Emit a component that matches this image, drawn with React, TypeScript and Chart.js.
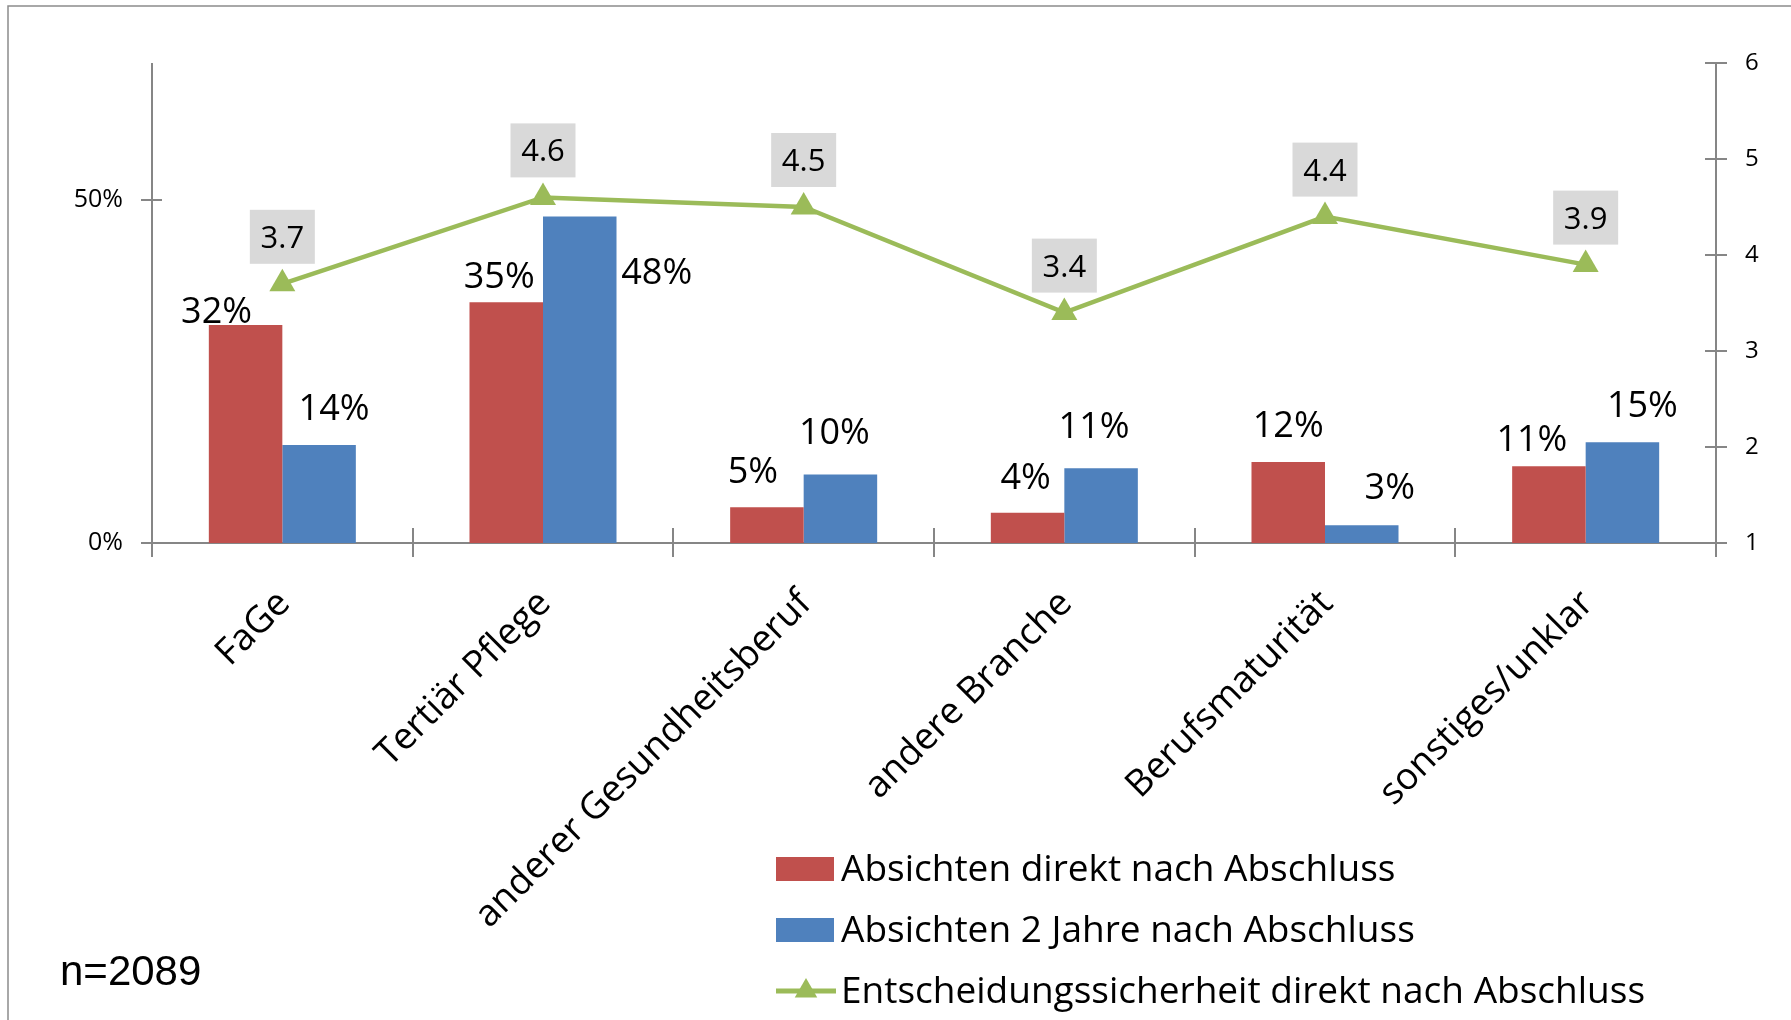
import React, { useEffect, useRef } from "react";
import { Chart, registerables } from "chart.js";

Chart.register(...registerables);

// ---------- data ----------
const categories = [
  "FaGe",
  "Tertiär Pflege",
  "anderer Gesundheitsberuf",
  "andere Branche",
  "Berufsmaturität",
  "sonstiges/unklar",
];
const directShare = [0.318, 0.351, 0.052, 0.044, 0.118, 0.112];
const twoYearShare = [0.143, 0.476, 0.1, 0.109, 0.026, 0.147];
const certainty = [3.7, 4.6, 4.5, 3.4, 4.4, 3.9];
const seriesNames = [
  "Absichten direkt nach Abschluss",
  "Absichten 2 Jahre nach Abschluss",
  "Entscheidungssicherheit direkt nach Abschluss",
];
const leftTicks = [0, 0.5];
const rightTicks = [1, 2, 3, 4, 5, 6];
const sampleNote = "n=2089";

// ---------- label placement (styling only, px offsets from bar top centre) ----------
const directLabelOffsets = [
  [-29, -15],
  [-7, -27],
  [-14, -37],
  [-2, -37],
  [0, -38],
  [-17, -28],
];
const twoYearLabelOffsets = [
  [15, -38],
  [77, 55],
  [-6, -43],
  [-7, -43],
  [28, -39],
  [20, -38],
];

const RED = "#C0504D";
const BLUE = "#4F81BD";
const GREEN = "#9BBB59";
const AXIS = "#868686";
const FONT = '"Open Sans"';

function drawTriangle(ctx: CanvasRenderingContext2D, x: number, y: number, r: number) {
  const s = Math.sin(Math.PI / 3) * r;
  ctx.beginPath();
  ctx.moveTo(x, y - r);
  ctx.lineTo(x + s, y + r / 2);
  ctx.lineTo(x - s, y + r / 2);
  ctx.closePath();
  ctx.fill();
}

const framePlugin = {
  id: "frame",
  beforeDraw(chart: any) {
    const ctx = chart.ctx;
    ctx.save();
    ctx.strokeStyle = "#8c8c8c";
    ctx.lineWidth = 1.5;
    ctx.beginPath();
    ctx.moveTo(8, chart.height);
    ctx.lineTo(8, 6);
    ctx.lineTo(chart.width, 6);
    ctx.stroke();
    ctx.restore();
  },
};

const axisPlugin = {
  id: "axisDecor",
  beforeDatasetsDraw(chart: any) {
    const { ctx, chartArea: a, scales } = chart;
    const x = scales.x;
    const yL = scales.y;
    const yR = scales.y2;
    ctx.save();
    ctx.strokeStyle = AXIS;
    ctx.lineWidth = 2;
    ctx.beginPath();
    ctx.moveTo(a.left, a.top);
    ctx.lineTo(a.left, a.bottom + 14);
    ctx.moveTo(a.right, a.top);
    ctx.lineTo(a.right, a.bottom + 14);
    ctx.moveTo(a.left, a.bottom);
    ctx.lineTo(a.right, a.bottom);
    leftTicks.forEach((v) => {
      const py = Math.round(yL.getPixelForValue(v));
      ctx.moveTo(a.left - 11, py);
      ctx.lineTo(a.left + 10, py);
    });
    rightTicks.forEach((v) => {
      const py = Math.round(yR.getPixelForValue(v));
      ctx.moveTo(a.right - 11, py);
      ctx.lineTo(a.right + 11, py);
    });
    for (let k = 1; k < categories.length; k++) {
      const px = Math.round((x.getPixelForValue(k - 1) + x.getPixelForValue(k)) / 2);
      ctx.moveTo(px, a.bottom - 15);
      ctx.lineTo(px, a.bottom + 14);
    }
    ctx.stroke();
    ctx.restore();
  },
};

const labelPlugin = {
  id: "valueLabels",
  afterDatasetsDraw(chart: any) {
    const ctx = chart.ctx;
    ctx.save();
    ctx.textAlign = "center";
    ctx.textBaseline = "alphabetic";
    const barSize = 36;
    ctx.font = `${barSize}px ${FONT}`;
    ctx.fillStyle = "#000";
    [0, 1].forEach((di) => {
      const meta = chart.getDatasetMeta(di);
      const vals = chart.data.datasets[di].data as number[];
      const offs = di === 0 ? directLabelOffsets : twoYearLabelOffsets;
      meta.data.forEach((el: any, i: number) => {
        const txt = Math.round(vals[i] * 100) + "%";
        ctx.fillText(txt, el.x + offs[i][0], el.y + offs[i][1] + barSize * 0.357);
      });
    });
    const lineMeta = chart.getDatasetMeta(2);
    const boxSize = 31;
    ctx.font = `${boxSize}px ${FONT}`;
    lineMeta.data.forEach((el: any, i: number) => {
      const cx = el.x;
      const cy = el.y - 47;
      ctx.fillStyle = "#D9D9D9";
      ctx.fillRect(cx - 32.5, cy - 27, 65, 54);
      ctx.fillStyle = "#000";
      ctx.fillText(certainty[i].toFixed(1), cx, cy + boxSize * 0.357);
    });
    ctx.restore();
  },
};

const legendPlugin = {
  id: "sideLegend",
  afterDraw(chart: any) {
    const ctx = chart.ctx;
    const ds = chart.data.datasets;
    const x0 = 776;
    const rowY = [869, 930, 991];
    const textX = 841;
    ctx.save();
    for (let i = 0; i < 2; i++) {
      ctx.fillStyle = ds[i].backgroundColor;
      ctx.fillRect(x0, rowY[i] - 12, 58, 24);
    }
    ctx.strokeStyle = ds[2].borderColor;
    ctx.lineWidth = 5;
    ctx.beginPath();
    ctx.moveTo(x0, rowY[2]);
    ctx.lineTo(x0 + 60, rowY[2]);
    ctx.stroke();
    ctx.fillStyle = ds[2].borderColor;
    drawTriangle(ctx, x0 + 30, rowY[2], 13);

    ctx.font = `37px ${FONT}`;
    ctx.fillStyle = "#000";
    ctx.textAlign = "left";
    ctx.textBaseline = "alphabetic";
    seriesNames.forEach((name, i) => ctx.fillText(name, textX, rowY[i] + 12));

    ctx.font = '42px "Liberation Sans", Arial, sans-serif';
    ctx.fillText(sampleNote, 60, 985);
    ctx.restore();
  },
};

export default function App() {
  const ref = useRef<HTMLCanvasElement | null>(null);

  useEffect(() => {
    if (!ref.current) return;
    const chart = new Chart(ref.current, {
      type: "bar",
      data: {
        labels: categories,
        datasets: [
          {
            type: "bar",
            label: seriesNames[0],
            data: directShare,
            backgroundColor: RED,
            borderWidth: 0,
            barPercentage: 1,
            categoryPercentage: 0.564,
            yAxisID: "y",
            order: 1,
          },
          {
            type: "bar",
            label: seriesNames[1],
            data: twoYearShare,
            backgroundColor: BLUE,
            borderWidth: 0,
            barPercentage: 1,
            categoryPercentage: 0.564,
            yAxisID: "y",
            order: 1,
          },
          {
            type: "line",
            label: seriesNames[2],
            data: certainty,
            borderColor: GREEN,
            backgroundColor: GREEN,
            borderWidth: 4.5,
            pointStyle: "triangle",
            pointRadius: 15,
            pointBackgroundColor: GREEN,
            pointBorderWidth: 0,
            tension: 0,
            yAxisID: "y2",
            order: 0,
          } as any,
        ],
      },
      options: {
        responsive: false,
        maintainAspectRatio: false,
        animation: false,
        layout: { padding: { top: 63, left: 0, right: 0, bottom: 0 } },
        plugins: {
          legend: { display: false },
          tooltip: { enabled: false },
          title: { display: false },
        },
        scales: {
          x: {
            type: "category",
            offset: true,
            grid: { display: false, drawTicks: false },
            border: { display: false },
            ticks: {
              autoSkip: false,
              maxRotation: 45,
              minRotation: 45,
              padding: 39,
              labelOffset: 2,
              color: "#000",
              font: { family: FONT, size: 37 },
            },
            afterFit(s: any) {
              s.height = 477;
            },
          },
          y: {
            position: "left",
            min: 0,
            max: 0.7,
            grid: { display: false, drawTicks: false },
            border: { display: false },
            ticks: {
              padding: 29,
              color: "#000",
              font: { family: FONT, size: 25 },
              callback: (v: any) => Math.round(Number(v) * 100) + "%",
            },
            afterBuildTicks(s: any) {
              s.ticks = leftTicks.map((v) => ({ value: v }));
            },
            afterFit(s: any) {
              s.width = 152;
            },
          },
          y2: {
            position: "right",
            min: 1,
            max: 6,
            grid: { display: false, drawTicks: false },
            border: { display: false },
            ticks: {
              stepSize: 1,
              padding: 29,
              color: "#000",
              font: { family: FONT, size: 24 },
            },
            afterBuildTicks(s: any) {
              s.ticks = rightTicks.map((v) => ({ value: v }));
            },
            afterFit(s: any) {
              s.width = 75;
            },
          },
        },
      } as any,
      plugins: [framePlugin, axisPlugin, labelPlugin, legendPlugin],
    });
    return () => chart.destroy();
  }, []);

  return (
    <div style={{ position: "absolute", left: 0, top: 0, width: 1791, height: 1020, background: "#fff" }}>
      <canvas ref={ref} width={1791} height={1020} style={{ display: "block" }} />
    </div>
  );
}
